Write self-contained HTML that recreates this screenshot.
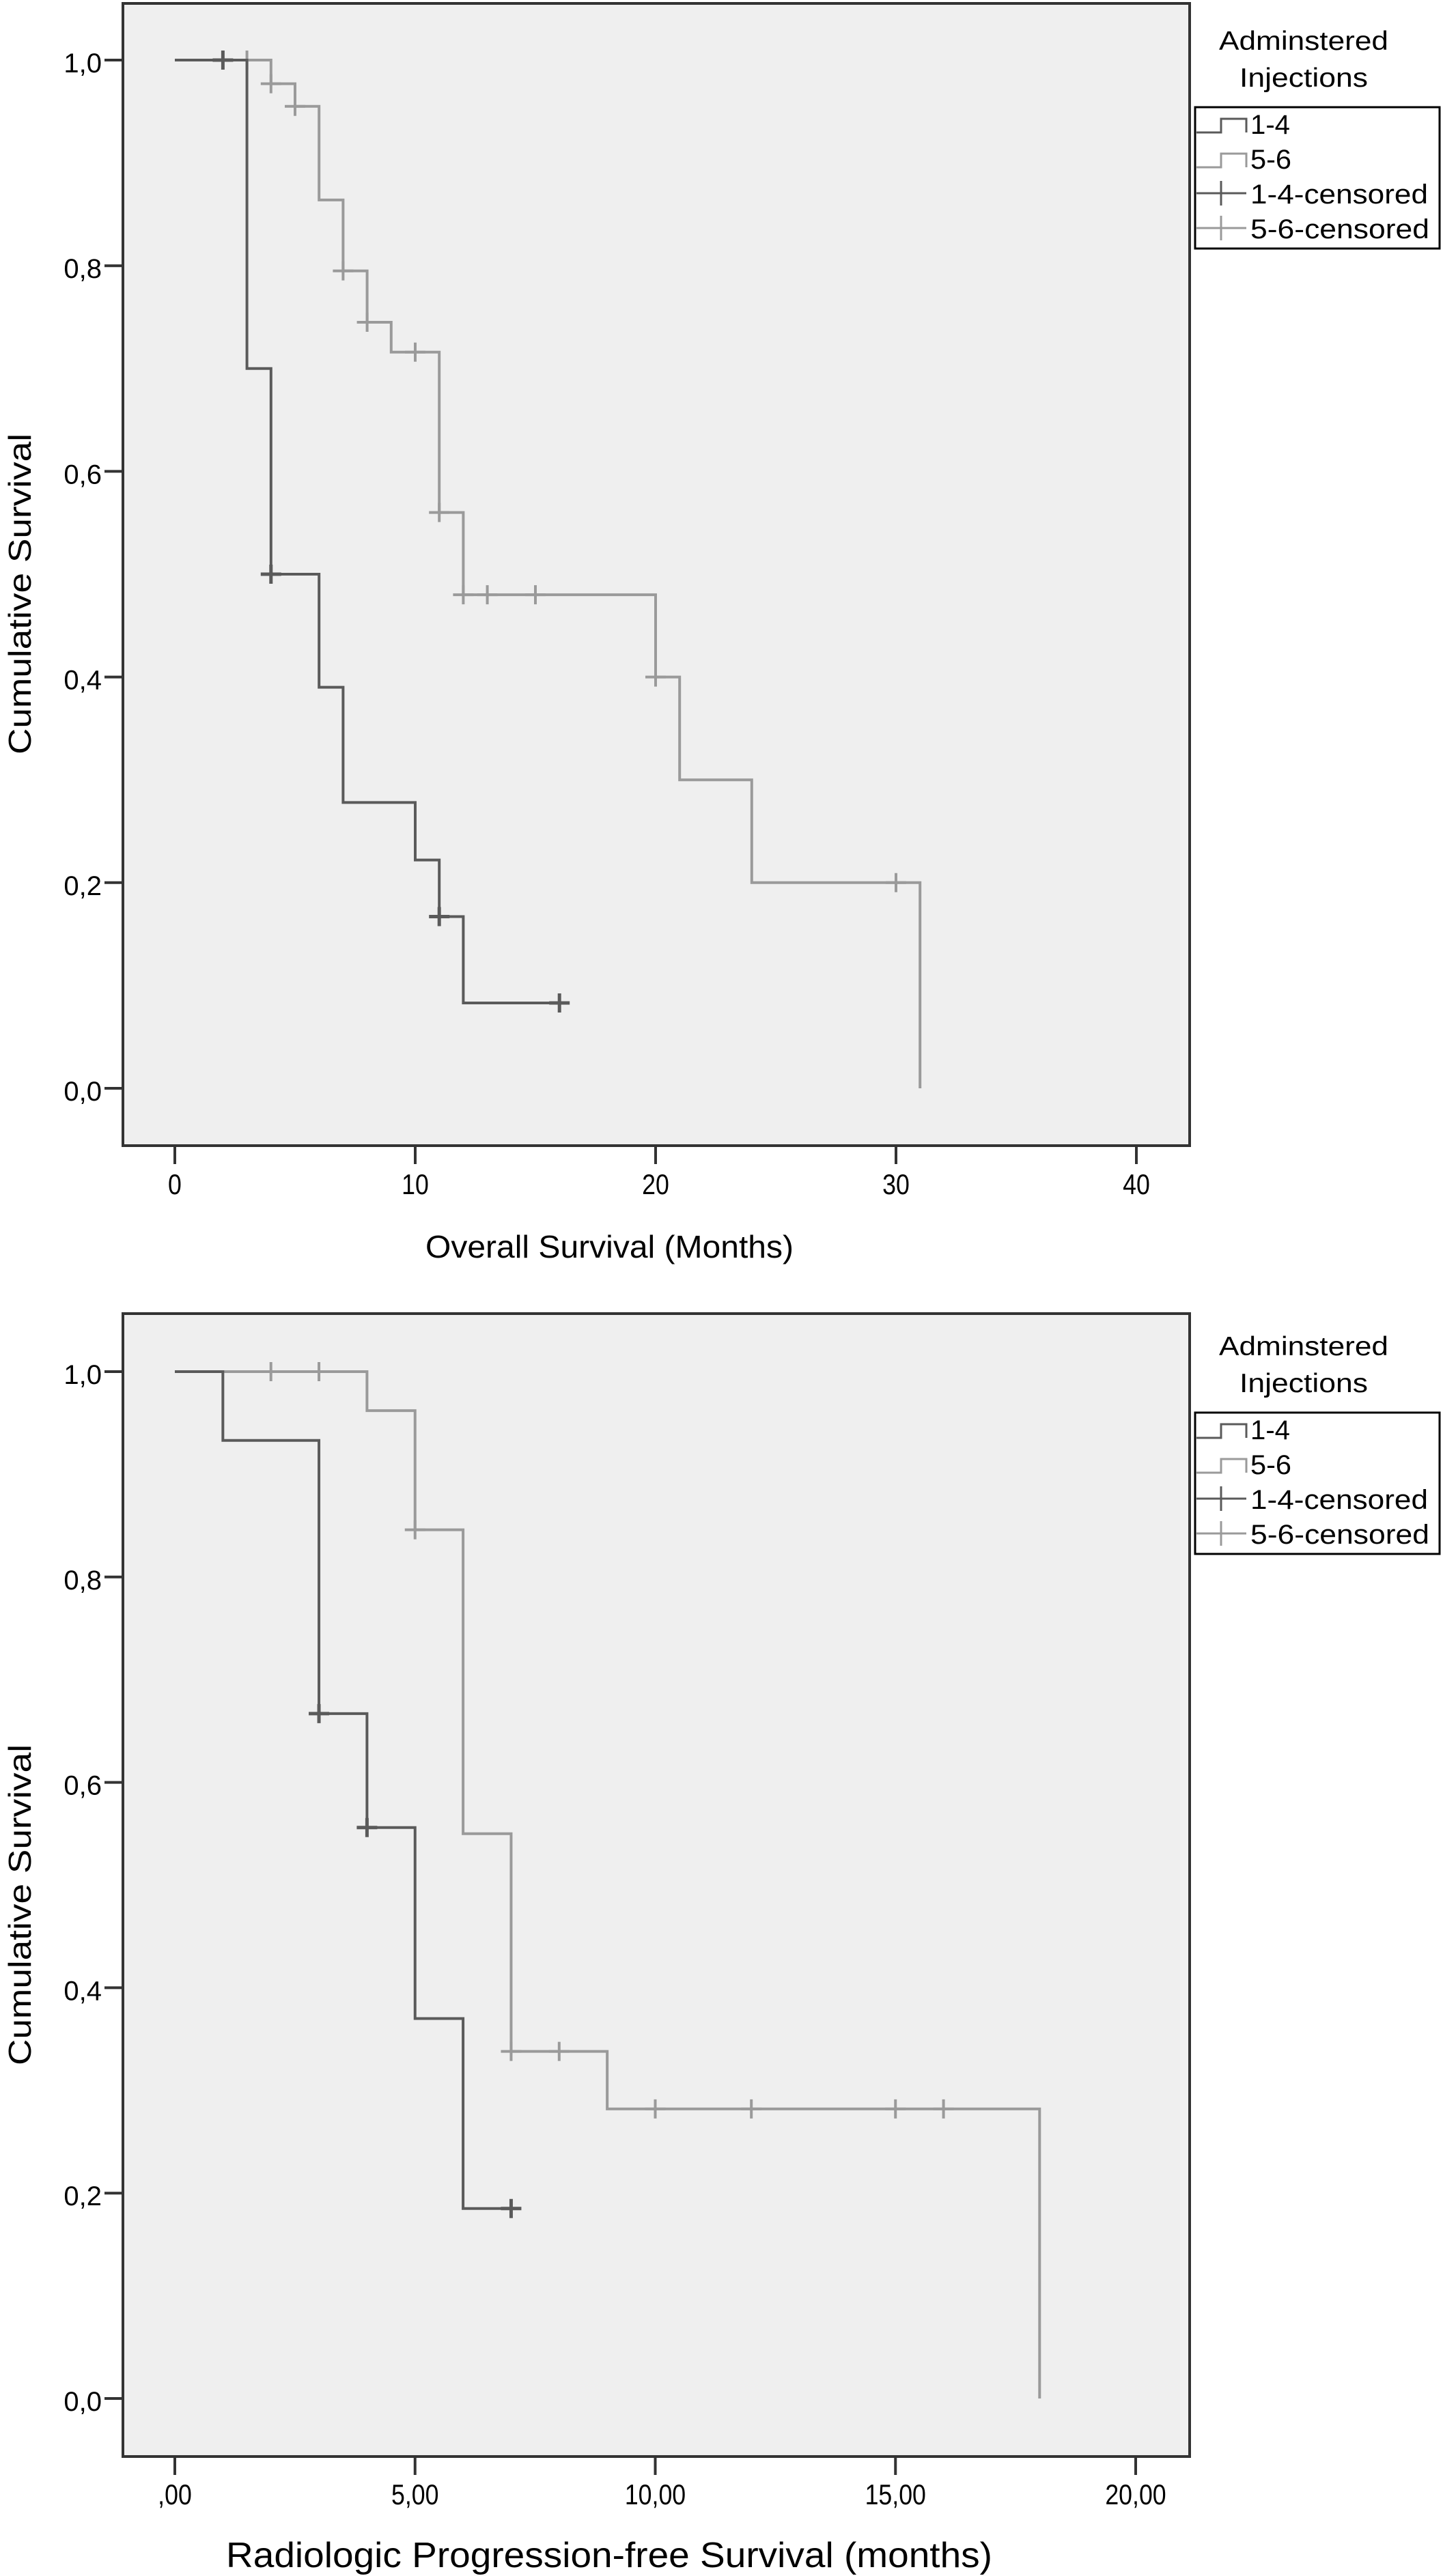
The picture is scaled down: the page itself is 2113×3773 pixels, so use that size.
<!DOCTYPE html>
<html><head><meta charset="utf-8"><style>
html,body{margin:0;padding:0;background:#fff;}
svg{display:block;}
text{font-family:"Liberation Sans",sans-serif;fill:#000;}
</style></head><body>
<svg id="s" width="2113" height="3773" viewBox="0 0 2113 3773" xmlns="http://www.w3.org/2000/svg"></svg>
<script>
// ---- Chart 1: Overall survival ----
const osTicksX = [0, 10, 20, 30, 40];
const osTickLabelsX = ["0", "10", "20", "30", "40"];
const ticksY = [0, 0.2, 0.4, 0.6, 0.8, 1.0];
const tickLabelsY = ["0,0", "0,2", "0,4", "0,6", "0,8", "1,0"];
const osG1Times = [0, 3, 4, 6, 7, 10, 11, 12, 16];
const osG1Surv = [1.0, 0.70, 0.50, 0.39, 0.278, 0.222, 0.167, 0.083, 0.083];
const osG1CensT = [2, 4, 11, 16];
const osG1CensS = [1.0, 0.50, 0.167, 0.083];
const osG2Times = [0, 4, 5, 6, 7, 8, 9, 11, 12, 20, 21, 24, 31];
const osG2Surv = [1.0, 0.977, 0.955, 0.864, 0.795, 0.745, 0.716, 0.56, 0.48, 0.40, 0.30, 0.20, 0.0];
const osG2CensT = [3, 4, 5, 7, 8, 10, 11, 12, 13, 15, 20, 30];
const osG2CensS = [1.0, 0.977, 0.955, 0.795, 0.745, 0.716, 0.56, 0.48, 0.48, 0.48, 0.40, 0.20];
// ---- Chart 2: Radiologic PFS ----
const pfsTicksX = [0, 5, 10, 15, 20];
const pfsTickLabelsX = [",00", "5,00", "10,00", "15,00", "20,00"];
const pfsG1Times = [0, 1, 3, 4, 5, 6, 7];
const pfsG1Surv = [1.0, 0.933, 0.667, 0.556, 0.37, 0.185, 0.185];
const pfsG1CensT = [3, 4, 7];
const pfsG1CensS = [0.667, 0.556, 0.185];
const pfsG2Times = [0, 4, 5, 6, 7, 9, 18];
const pfsG2Surv = [1.0, 0.962, 0.846, 0.55, 0.338, 0.282, 0.0];
const pfsG2CensT = [2, 3, 5, 7, 8, 10, 12, 15, 16];
const pfsG2CensS = [1.0, 1.0, 0.846, 0.338, 0.338, 0.282, 0.282, 0.282, 0.282];

const NS = "http://www.w3.org/2000/svg";
const svg = document.getElementById("s");
function mk(tag, attrs, parent, txt) {
  const e = document.createElementNS(NS, tag);
  for (const k in attrs) e.setAttribute(k, attrs[k]);
  if (txt !== undefined) e.textContent = txt;
  (parent || svg).appendChild(e);
  return e;
}
const DARK = "#5a5a5a", LIGHT = "#9a9a9a";

function drawChart(cfg) {
  const g = mk("g", {});
  
  
  const xs = v => cfg.x0 + (v - cfg.xmin) / (cfg.xmax - cfg.xmin) * (cfg.x1 - cfg.x0);
  const ys = v => cfg.y0 - v * (cfg.y0 - cfg.y1);
  const bg = mk("rect", {x: cfg.L, y: cfg.T, width: cfg.R - cfg.L, height: cfg.B - cfg.T, fill: "#efefef"}, g);
  
  
  function series(times, surv, ct, cs, color, nm, cw) {
    let d = "M" + xs(times[0]) + "," + ys(surv[0]);
    for (let i = 1; i < times.length; i++) {
      d += " H" + xs(times[i]) + " V" + ys(surv[i]);
    }
    const p = mk("path", {d: d, fill: "none", stroke: color, "stroke-width": 4}, g);
    
    
    for (let i = 0; i < ct.length; i++) {
      const cx = xs(ct[i]), cy = ys(cs[i]);
      const c = mk("path", {d: "M" + (cx - 15) + "," + cy + " H" + (cx + 15) + " M" + cx + "," + (cy - 14) + " V" + (cy + 14), stroke: color, "stroke-width": cw, fill: "none"}, g);
      
      
    }
  }
  series(cfg.g2t, cfg.g2s, cfg.g2ct, cfg.g2cs, LIGHT, "group-5-6", 4);
  series(cfg.g1t, cfg.g1s, cfg.g1ct, cfg.g1cs, DARK, "group-1-4", 5);
  const fr = mk("rect", {x: cfg.L, y: cfg.T, width: cfg.R - cfg.L, height: cfg.B - cfg.T, fill: "none", stroke: "#333", "stroke-width": 4}, g);
  
  
  for (let i = 0; i < ticksY.length; i++) {
    const y = ys(ticksY[i]);
    mk("line", {x1: cfg.L - 27, x2: cfg.L, y1: y, y2: y, stroke: "#333", "stroke-width": 4}, g);
    const t = mk("text", {x: 149, y: y + 18, "font-size": 40, "text-anchor": "end"}, g, tickLabelsY[i]);
    
    
  }
  for (let i = 0; i < cfg.tx.length; i++) {
    const x = xs(cfg.tx[i]);
    mk("line", {x1: x, x2: x, y1: cfg.B, y2: cfg.B + 27, stroke: "#333", "stroke-width": 4}, g);
    const t = mk("text", {x: x, y: cfg.B + cfg.tickDy, "font-size": cfg.tickFs, "text-anchor": "middle", transform: "translate(" + x + " 0) scale(0.85 1) translate(" + (-x) + " 0)"}, g, cfg.tl[i]);
    
    
  }
  const xt = mk("text", {x: cfg.xtX, y: cfg.xtY, "font-size": cfg.xtFs, textLength: cfg.xtW, lengthAdjust: "spacingAndGlyphs"}, g, cfg.xTitle);
  
  
  const yt = mk("text", {x: 0, y: 0, "font-size": 46, "text-anchor": "middle", textLength: 470, lengthAdjust: "spacingAndGlyphs", transform: "translate(45 " + cfg.ytY + ") rotate(-90)"}, g, "Cumulative Survival");
  
  
  const lg = mk("g", {}, g);
  
  
  const bt = cfg.lgTop;
  const l1 = mk("text", {x: 1785, y: bt - 84, "font-size": 39, textLength: 248, lengthAdjust: "spacingAndGlyphs"}, lg, "Adminstered");
  
  
  const l2 = mk("text", {x: 1815, y: bt - 30, "font-size": 39, textLength: 188, lengthAdjust: "spacingAndGlyphs"}, lg, "Injections");
  
  
  mk("rect", {x: 1750, y: bt, width: 358, height: 207, fill: "#fff", stroke: "#000", "stroke-width": 3}, lg);
  const names = ["1-4", "5-6", "1-4-censored", "5-6-censored"];
  const offs = [39, 90, 141, 192];
  const widths = [58, 60, 260, 262];
  for (let i = 0; i < 4; i++) {
    const by = bt + offs[i];
    const col = (i % 2 === 0) ? DARK : LIGHT;
    let sym;
    if (i < 2) {
      sym = mk("path", {d: "M1752," + (by - 2) + " H1788 V" + (by - 22) + " H1825 V" + (by - 2), fill: "none", stroke: col, "stroke-width": 3}, lg);
    } else {
      sym = mk("path", {d: "M1752," + (by - 15) + " H1825 M1788," + (by - 33) + " V" + (by + 3), fill: "none", stroke: col, "stroke-width": 3}, lg);
    }
    
    
    const t = mk("text", {x: 1831, y: by, "font-size": 40, textLength: widths[i], lengthAdjust: "spacingAndGlyphs"}, lg, names[i]);
    
    
  }
}

drawChart({name: "overall-survival-chart", L: 180, R: 1742, T: 5, B: 1678,
  x0: 256, x1: 1664, xmin: 0, xmax: 40, y0: 1594, y1: 88,
  tx: osTicksX, tl: osTickLabelsX, tickDy: 71, tickFs: 42,
  g1t: osG1Times, g1s: osG1Surv, g1ct: osG1CensT, g1cs: osG1CensS,
  g2t: osG2Times, g2s: osG2Surv, g2ct: osG2CensT, g2cs: osG2CensS,
  xTitle: "Overall Survival (Months)", xtX: 623, xtY: 1842, xtFs: 46, xtW: 539,
  ytY: 870, lgTop: 157});

drawChart({name: "progression-free-survival-chart", L: 180, R: 1742, T: 1924, B: 3598,
  x0: 256, x1: 1663, xmin: 0, xmax: 20, y0: 3513, y1: 2009,
  tx: pfsTicksX, tl: pfsTickLabelsX, tickDy: 70, tickFs: 42,
  g1t: pfsG1Times, g1s: pfsG1Surv, g1ct: pfsG1CensT, g1cs: pfsG1CensS,
  g2t: pfsG2Times, g2s: pfsG2Surv, g2ct: pfsG2CensT, g2cs: pfsG2CensS,
  xTitle: "Radiologic Progression-free Survival (months)", xtX: 331, xtY: 3760, xtFs: 52, xtW: 1122,
  ytY: 2790, lgTop: 2069});
</script>
</body></html>
